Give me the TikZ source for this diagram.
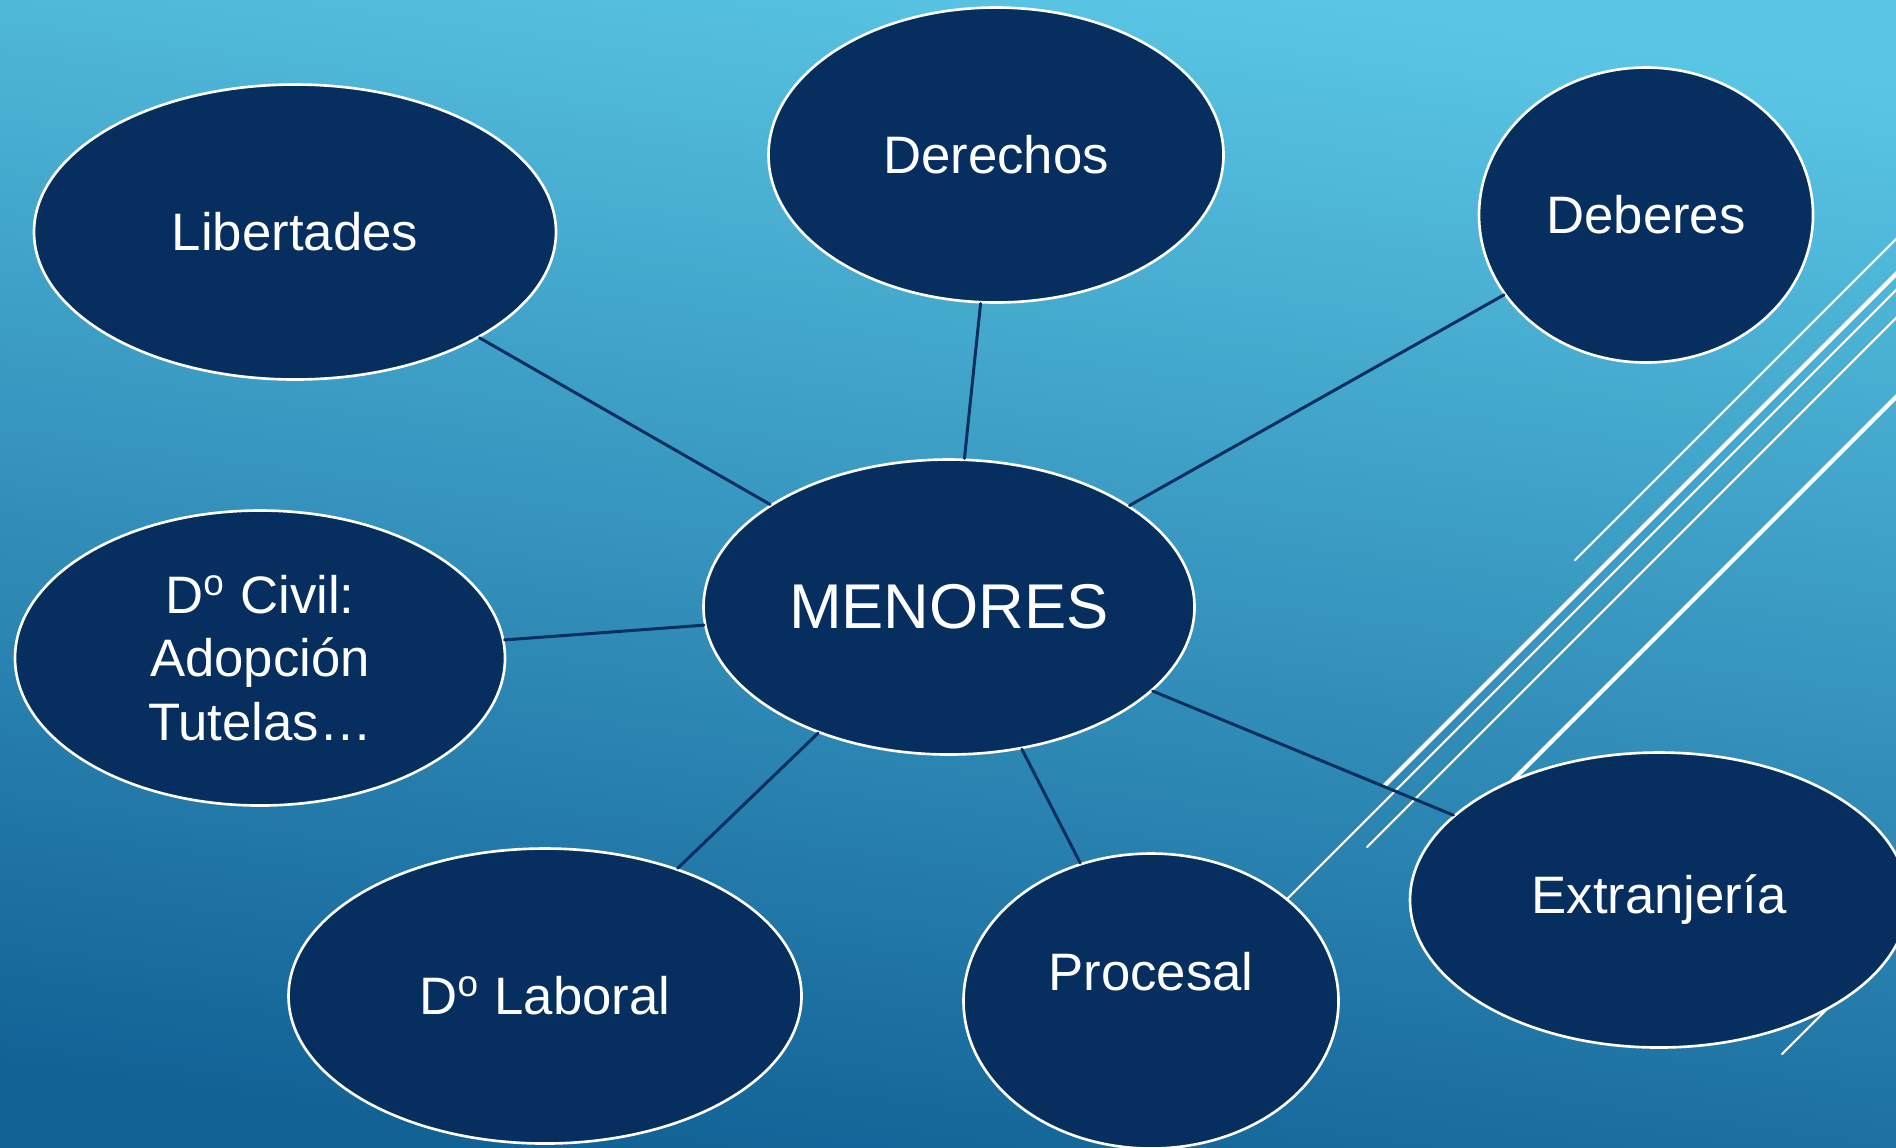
\documentclass[tikz,border=0pt]{standalone}
\usepackage{fontspec}
\setmainfont{Liberation Sans}
\usetikzlibrary{shapes.geometric}
\definecolor{azul}{RGB}{6,46,95}
\definecolor{cielo}{RGB}{90,198,229}
\definecolor{mar}{RGB}{18,98,150}
\begin{document}
\begin{tikzpicture}[x=0.1mm, y=-0.1mm, line join=round, line cap=round,
	burbuja/.style={ellipse, draw=white, line width=0.75pt, fill=azul, text=white, inner sep=0pt,
		minimum height=29.5mm, align=center, font=\fontsize{15}{18}\selectfont},
	enlace/.style={draw=azul, line width=0.85pt},
	raya/.style={white, line width=0.6pt},
	rayagruesa/.style={white, line width=1.2pt}]
	\useasboundingbox (0,0) rectangle (1896,1147);
	\shade[top color=cielo, bottom color=mar, shading angle=-8] (0,0) rectangle (1896,1147);
	% rayas blancas de fondo
	\draw[raya] (1575,560)--(1950,185);
	\draw[rayagruesa] (1385,785)--(1950,220);
	\draw[raya] (1250,936)--(1950,236);
	\draw[raya] (1367,847)--(1950,264);
	\draw[rayagruesa] (1450,843)--(1950,343);
	\draw[raya] (1782,1054)--(1900,936);
	% burbujas
	\node[burbuja, minimum width=49.1mm, font=\fontsize{18}{22}\selectfont] (menores) at (949,607) {MENORES};
	\node[burbuja, minimum width=52.2mm] (libertades) at (295,232) {Libertades};
	\node[burbuja, minimum width=45.5mm] (derechos) at (996,155) {Derechos};
	\node[burbuja, minimum width=33.4mm] (deberes) at (1646,215) {Deberes};
	\node[burbuja, minimum width=49.0mm] (civil) at (260,658) {D\textsuperscript{o} Civil:\\Adopción\\Tutelas…};
	\node[burbuja, minimum width=51.3mm] (laboral) at (545,996) {D\textsuperscript{o} Laboral};
	\node[burbuja, minimum width=37.5mm, label={[text=white, font=\fontsize{15}{18}\selectfont, yshift=2.9mm]center:Procesal}] (procesal) at (1151,1001) {};
	\node[burbuja, minimum width=49.8mm] (extranjeria) at (1659,900) {Extranjería};
	% enlaces
	\foreach \n in {libertades,derechos,deberes,civil,laboral,procesal,extranjeria}
		\draw[enlace] (menores)--(\n);
\end{tikzpicture}
\end{document}
